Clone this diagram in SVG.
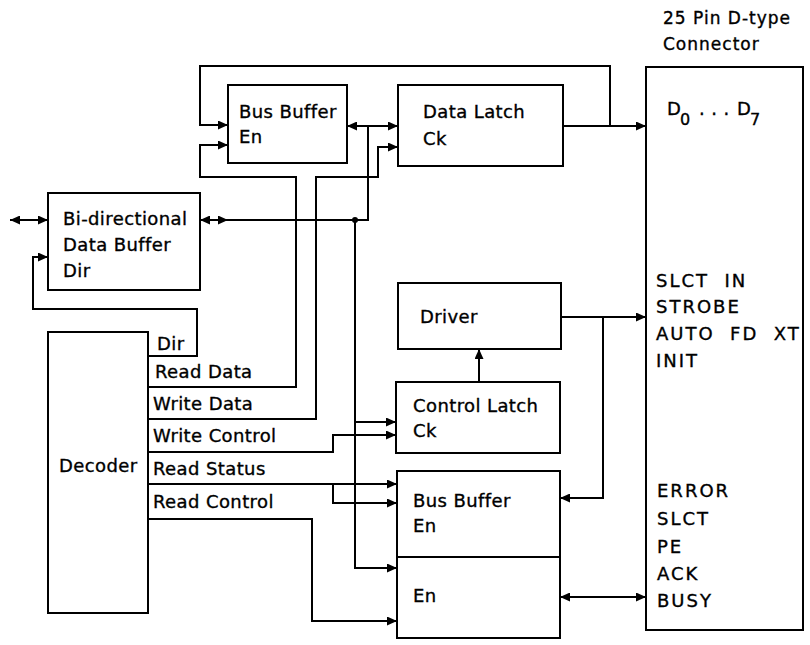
<svg xmlns="http://www.w3.org/2000/svg" width="810" height="645" viewBox="0 0 810 645">
<defs>
<style>
.box{fill:none;stroke:#000;stroke-width:2}
.w{fill:none;stroke:#000;stroke-width:2}
.a{marker-end:url(#ah)}
.b{marker-start:url(#ahs);marker-end:url(#ah)}
.s{marker-start:url(#ahs)}
text{font-family:"DejaVu Sans",sans-serif;font-size:18px;fill:#000;stroke:#000;stroke-width:0.35px;letter-spacing:0.4px}
.cap{letter-spacing:2px}
.hd{font-size:17px;letter-spacing:1px}
.sub{font-size:16px}
</style>
<marker id="ah" markerUnits="userSpaceOnUse" markerWidth="10" markerHeight="9" refX="10" refY="4.5" orient="auto" viewBox="0 0 10 9">
<path d="M0,0 L10,4.5 L0,9 z" fill="#000"/>
</marker>
<marker id="ahs" markerUnits="userSpaceOnUse" markerWidth="10" markerHeight="9" refX="10" refY="4.5" orient="auto-start-reverse" viewBox="0 0 10 9">
<path d="M0,0 L10,4.5 L0,9 z" fill="#000"/>
</marker>
</defs>
<rect width="810" height="645" fill="#fff"/>

<g id="connectors">
<path class="w b" d="M10,220 H48"/>
<path class="w s" d="M200,220 H368 V126"/>
<path class="w a" d="M212,220 H228"/>
<path class="w b" d="M347,126 H398"/>
<circle cx="355" cy="220" r="3" fill="#000"/>
<path class="w a" d="M355,220 V568 H397"/>
<path class="w a" d="M355,422 H396"/>
<path class="w a" d="M610,126 V66 H200 V125 H228"/>
<path class="w a" d="M563,126 H646"/>
<path class="w a" d="M148,387 H296 V177 H200 V145 H228"/>
<path class="w a" d="M148,419 H316 V177 H378 V147 H398"/>
<path class="w a" d="M148,452 H333 V435 H396"/>
<path class="w a" d="M148,484 H397"/>
<path class="w a" d="M333,484 V503 H397"/>
<path class="w a" d="M148,519 H312 V621 H397"/>
<path class="w a" d="M148,356 H197 V309 H33 V257 H48"/>
<path class="w a" d="M479,382 V349"/>
<path class="w a" d="M561,317 H646"/>
<path class="w a" d="M603,317 V498 H560"/>
<path class="w b" d="M560,597 H646"/>
</g>

<g id="bidir">
<rect class="box" x="48" y="193" width="152" height="97"/>
<text x="63" y="225">Bi-directional</text>
<text x="63" y="251">Data Buffer</text>
<text x="63" y="277">Dir</text>
</g>

<g id="busbuffer1">
<rect class="box" x="228" y="85" width="119" height="78"/>
<text x="239" y="118">Bus Buffer</text>
<text x="239" y="143">En</text>
</g>

<g id="datalatch">
<rect class="box" x="398" y="85" width="165" height="81"/>
<text x="423" y="118">Data Latch</text>
<text x="423" y="145">Ck</text>
</g>

<g id="decoder">
<rect class="box" x="48" y="332" width="100" height="281"/>
<text x="59" y="472">Decoder</text>
<text x="157" y="350">Dir</text>
<text x="155" y="378">Read Data</text>
<text x="153" y="410">Write Data</text>
<text x="153" y="442">Write Control</text>
<text x="153" y="475">Read Status</text>
<text x="153" y="508">Read Control</text>
</g>

<g id="driver">
<rect class="box" x="398" y="283" width="163" height="66"/>
<text x="420" y="323">Driver</text>
</g>

<g id="controllatch">
<rect class="box" x="396" y="382" width="164" height="71"/>
<text x="413" y="412">Control Latch</text>
<text x="413" y="437">Ck</text>
</g>

<g id="busbuffer2">
<rect class="box" x="397" y="471" width="163" height="86"/>
<text x="413" y="507">Bus Buffer</text>
<text x="413" y="532">En</text>
</g>

<g id="enbox">
<rect class="box" x="397" y="557" width="163" height="81"/>
<text x="413" y="602">En</text>
</g>

<g id="connector">
<rect class="box" x="646" y="67" width="157" height="563"/>
<text class="hd" x="663" y="24">25 Pin D-type</text>
<text class="hd" x="663" y="50">Connector</text>
<text x="667" y="115">D</text>
<text class="sub" x="680" y="125">0</text>
<text x="699" y="115" letter-spacing="2">. . .</text>
<text x="737" y="115">D</text>
<text class="sub" x="750" y="125">7</text>
<text class="cap" x="656" y="287" xml:space="preserve">SLCT  IN</text>
<text class="cap" x="656" y="313">STROBE</text>
<text class="cap" x="656" y="340" xml:space="preserve">AUTO  FD  XT</text>
<text class="cap" x="656" y="367">INIT</text>
<text class="cap" x="657" y="497">ERROR</text>
<text class="cap" x="657" y="525">SLCT</text>
<text class="cap" x="657" y="553">PE</text>
<text class="cap" x="657" y="580">ACK</text>
<text class="cap" x="657" y="607">BUSY</text>
</g>
</svg>
